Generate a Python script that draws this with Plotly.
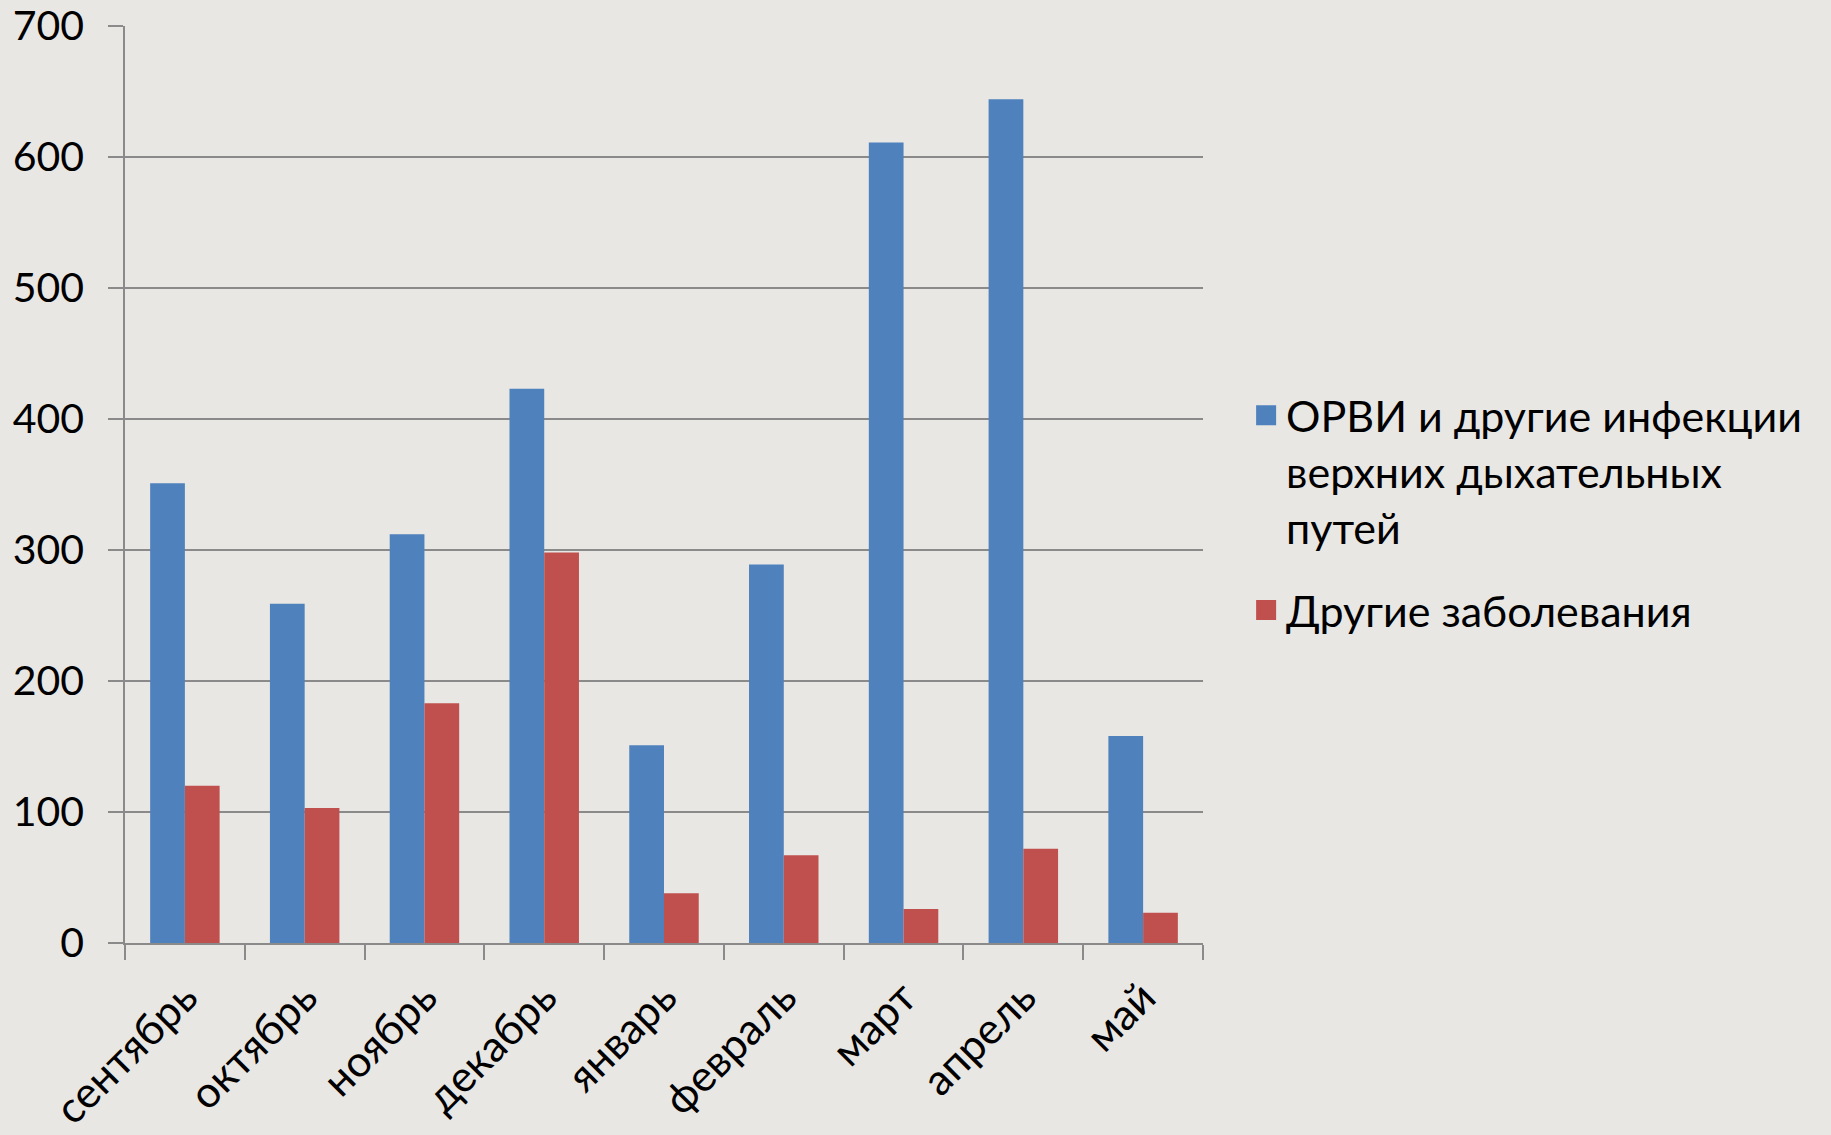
import plotly.graph_objects as go

months = ["сентябрь", "октябрь", "ноябрь", "декабрь", "январь", "февраль", "март", "апрель", "май"]
orvi = [351, 259, 312, 423, 151, 289, 611, 644, 158]
other = [120, 103, 183, 298, 38, 67, 26, 72, 23]
series_names = ["ОРВИ и другие инфекции<br>верхних дыхательных<br>путей", "Другие заболевания"]
series_colors = ["#4f81bd", "#c0504d"]
y_ticks = [0, 100, 200, 300, 400, 500, 600, 700]

FONT = "Lato"
GRID = "#8a8a8a"

fig = go.Figure()
for vals, name, col in zip([orvi, other], series_names, series_colors):
    fig.add_trace(go.Bar(x=months, y=vals, name=name, marker_color=col,
                         marker_line_width=0, showlegend=False, legendgroup=name))
# legend entries with larger square symbols
for name, col in zip(series_names, series_colors):
    fig.add_trace(go.Scatter(x=[None], y=[None], mode="markers", name=name, legendgroup=name,
                             marker=dict(symbol="square", size=16, color=col,
                                         line=dict(color=col, width=4))))

fig.update_layout(
    width=1831, height=1135,
    margin=dict(l=125, r=628, t=26, b=192, autoexpand=False),
    paper_bgcolor="#e8e7e4",
    plot_bgcolor="rgba(0,0,0,0)",
    barmode="group", bargap=0.42, bargroupgap=0,
    font=dict(family=FONT, size=41, color="black"),
    legend=dict(x=1.04, y=0.613, xanchor="left", yanchor="top", valign="top",
                font=dict(family=FONT, size=43, color="black"),
                bgcolor="rgba(0,0,0,0)", tracegroupgap=24, itemsizing="trace", itemwidth=30),
    showlegend=True,
)
fig.update_xaxes(
    type="category", tickson="boundaries", ticks="outside", ticklen=15, tickcolor=GRID, tickwidth=1.5,
    showline=True, linecolor=GRID, linewidth=2, showgrid=False, tickangle=-45, automargin=False,
    ticklabelstandoff=10, tickfont=dict(family=FONT, size=43, color="black"),
)
fig.update_yaxes(
    range=[0, 700], tickvals=y_ticks, ticks="outside", ticklen=15, tickcolor=GRID, tickwidth=1.5,
    showline=True, linecolor=GRID, linewidth=1.5, showgrid=True, gridcolor=GRID, gridwidth=1.5,
    zeroline=False, ticklabelstandoff=16, automargin=False,
    tickfont=dict(family=FONT, size=41, color="black"),
)

fig.write_html("out.html", config={"displayModeBar": False},
               post_script="document.body.style.margin='0';document.body.style.overflow='hidden';")
